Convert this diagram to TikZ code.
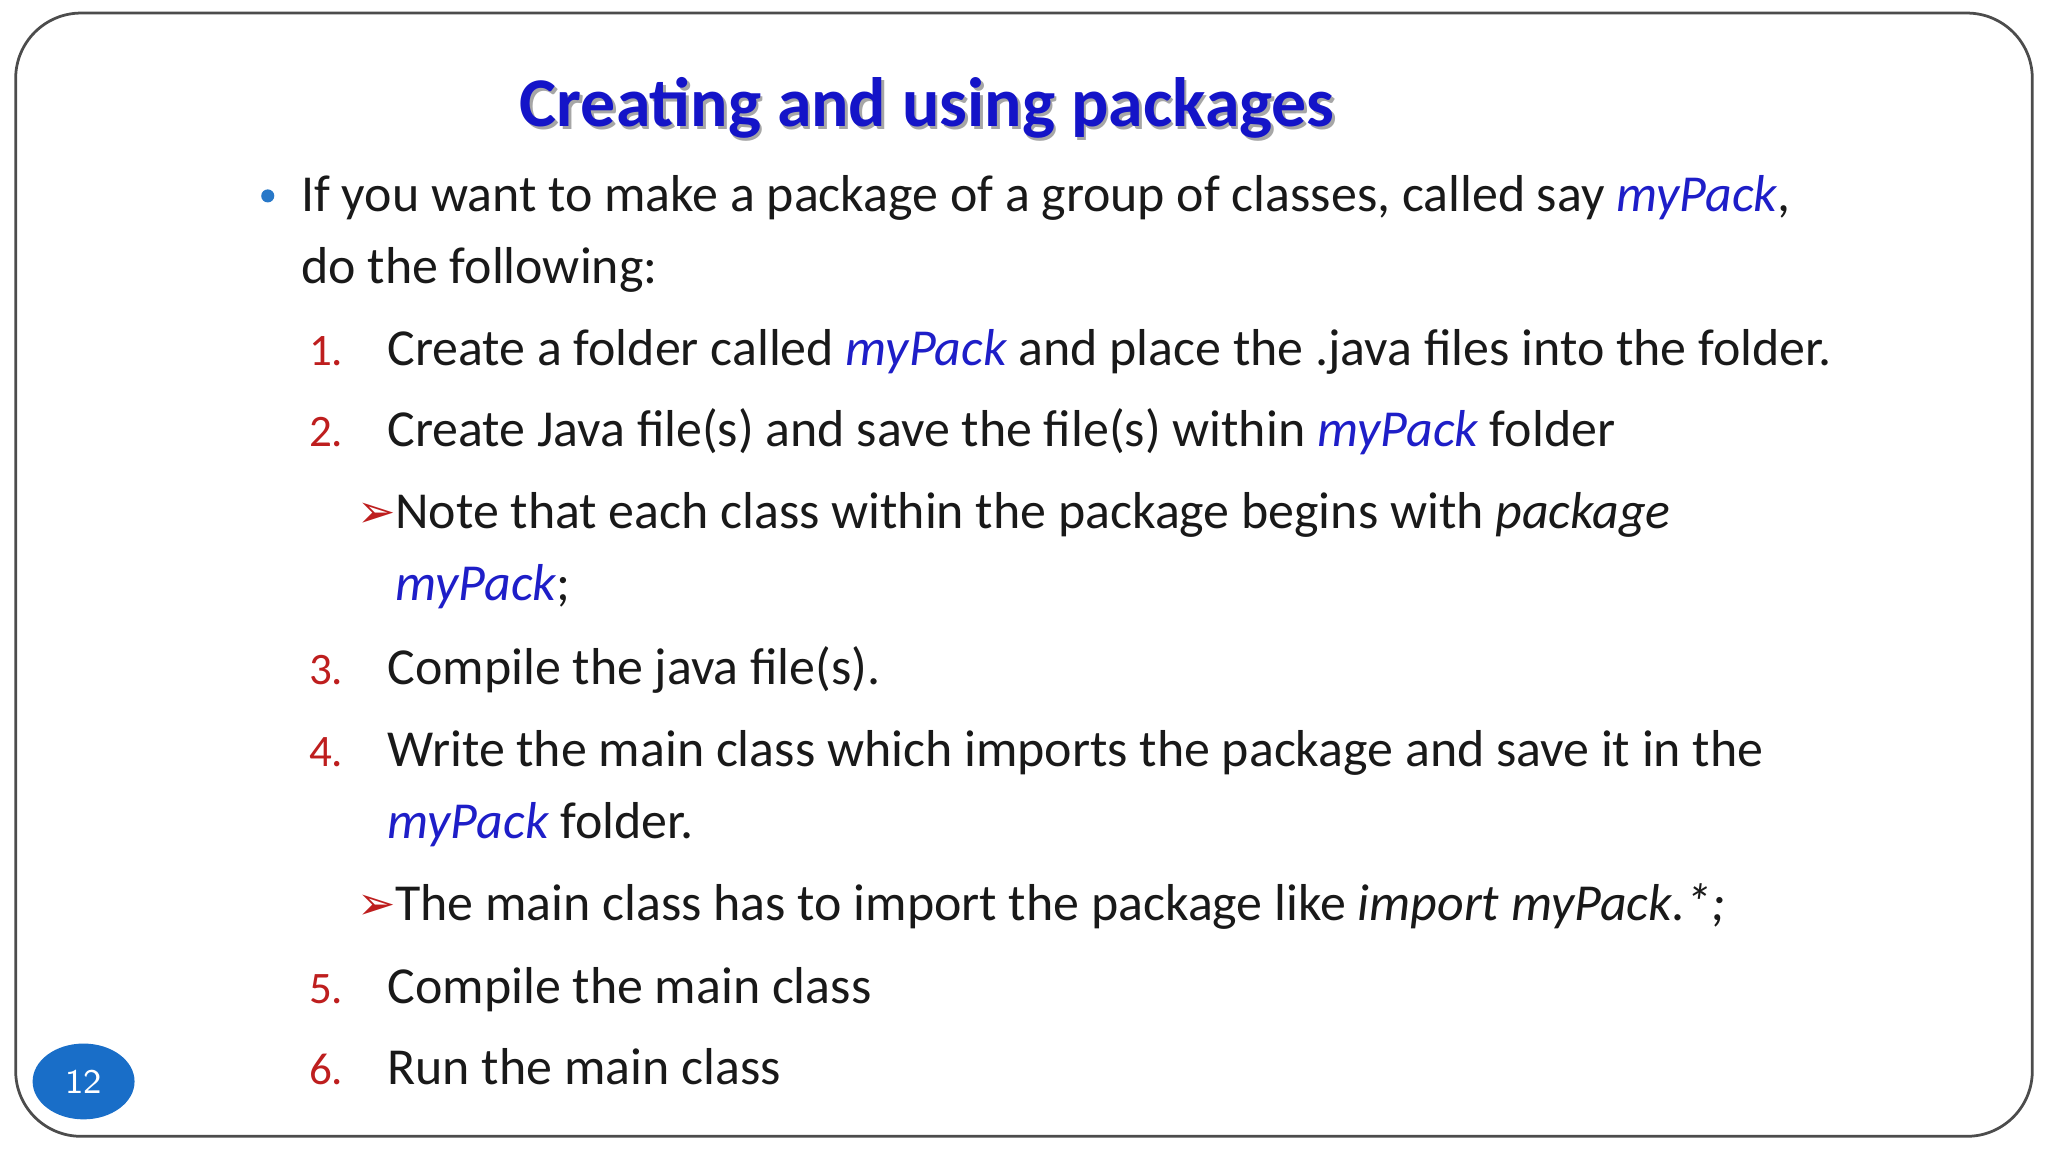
\documentclass[tikz,border=0pt]{standalone}
\usepackage{fontspec}
\setmainfont{Carlito}
\newfontfamily\symf{DejaVu Sans}
\usetikzlibrary{shapes.geometric}
\definecolor{ttl}{RGB}{20,20,200}
\definecolor{myb}{RGB}{30,30,200}
\definecolor{numr}{RGB}{190,30,30}
\definecolor{dotb}{RGB}{40,120,200}
\definecolor{circ}{RGB}{25,110,200}
\begin{document}
\begin{tikzpicture}[x=0.01cm,y=-0.01cm,
  body/.style={anchor=base west,inner sep=0,font=\fontsize{11.3}{13}\selectfont,text=black!90},
  num/.style={anchor=base west,inner sep=0,font=\fontsize{9.8}{11}\selectfont,text=numr}]
\useasboundingbox (0,0) rectangle (1568,882);
\fill[white] (0,0) rectangle (1568,882);
\draw[black!70,line width=0.6pt,rounded corners=0.5cm] (12,10) rectangle (1556,870);
\node[anchor=base,inner sep=0,font=\bfseries\fontsize{15.2}{18}\selectfont,text=black!35] (tsh) at (712,99) {Creating and using packages};
\node[anchor=base,inner sep=0,font=\bfseries\fontsize{15.2}{18}\selectfont,text=ttl] (t) at (710,97) {Creating and using packages};
\fill[dotb] (205,150) circle (5);
\node[body] (l1) at (230,162) {If you want to make a package of a group of classes, called say \textcolor{myb}{\itshape myPack},};
\node[body] (l2) at (230,217) {do the following:};
\node[num] (n1) at (236,280) {1.};
\node[body] (s1) at (296,280) {Create a folder called \textcolor{myb}{\itshape myPack} and place the .java files into the folder.};
\node[num] (n2) at (236,342) {2.};
\node[body] (s2) at (296,342) {Create Java file(s) and save the file(s) within \textcolor{myb}{\itshape myPack} folder};
\node[anchor=base west,inner sep=0,text=numr,font=\symf\fontsize{10}{11}\selectfont] (a1) at (273,404) {➢};
\node[body] (s2a) at (302,405) {Note that each class within the package begins with \textit{package}};
\node[body] (s2b) at (302,460) {\textcolor{myb}{\itshape myPack};};
\node[num] (n3) at (236,524) {3.};
\node[body] (s3) at (296,524) {Compile the java file(s).};
\node[num] (n4) at (236,587) {4.};
\node[body] (s4) at (296,587) {Write the main class which imports the package and save it in the};
\node[body] (s4b) at (296,642) {\textcolor{myb}{\itshape myPack} folder.};
\node[anchor=base west,inner sep=0,text=numr,font=\symf\fontsize{10}{11}\selectfont] (a2) at (273,704) {➢};
\node[body] (s4c) at (302,705) {The main class has to import the package like \textit{import myPack.*;}};
\node[num] (n5) at (236,768) {5.};
\node[body] (s5) at (296,768) {Compile the main class};
\node[num] (n6) at (236,830) {6.};
\node[body] (s6) at (296,830) {Run the main class};
\node[ellipse,fill=circ,minimum width=0.78cm,minimum height=0.58cm,inner sep=0] (pg) at (64,828) {};
\node[text=white,font=\fontsize{7.5}{9}\selectfont\sffamily] at (pg) {12};
\end{tikzpicture}
\end{document}
